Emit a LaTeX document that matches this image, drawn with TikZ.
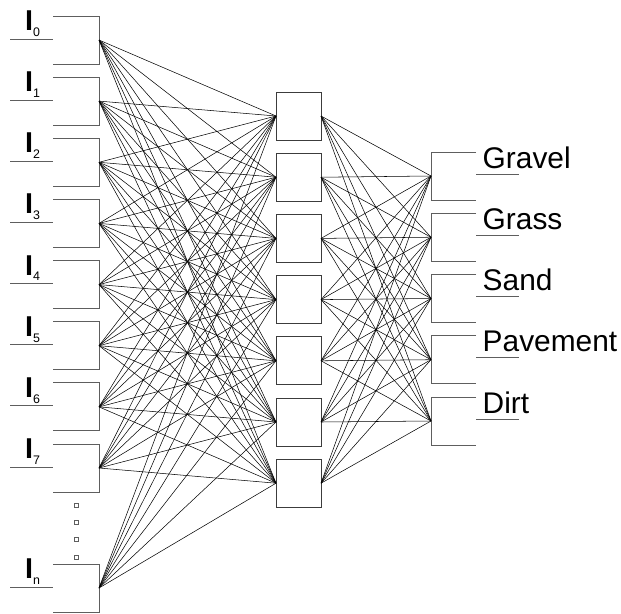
\documentclass[tikz,border=0pt]{standalone}
\usepackage{fontspec}
\setmainfont{Liberation Sans}
\usepackage{xcolor}
\usetikzlibrary{positioning, calc}
\definecolor{unitgray}{HTML}{5E5E5E}
\definecolor{boxgray}{HTML}{3C3C3C}
\tikzset{
    % Bracket of an input or output unit
    unit line/.style={
        draw=unitgray,
        line width=0.8pt
    },
    % Hidden unit style
    hidbox/.style={
        rectangle,
        draw=boxgray,
        line width=0.8pt,
        minimum width=1.35cm,
        minimum height=1.44cm,
        inner sep=0pt,
        outer sep=0pt
    },
    % Weight line style
    link/.style={
        draw=black,
        line width=0.45pt
    },
    % Input label style
    in label/.style={
        anchor=base west,
        inner sep=0pt,
        text=black
    },
    % Output label style
    out label/.style={
        anchor=base west,
        inner sep=0pt,
        text=black,
        font=\fontsize{25.5}{30}\selectfont
    },
    % Ellipsis dot style
    gap dot/.style={
        rectangle,
        draw=unitgray,
        line width=0.4pt,
        minimum size=0.13cm,
        inner sep=0pt
    }
}

\begin{document}
\begin{tikzpicture}[x=0.03cm, y=-0.03cm]
        \useasboundingbox (0,0) rectangle (621,613);

        % Input units
        \foreach \i/\t in {0/16,1/77.1,2/138.3,3/199.4,4/260.6,5/321.7,6/382.9,7/444,n/564} {
            \draw[unit line] (53,\t) -| (99,\t+48) -- (53,\t+48);
            \draw[unit line] (10,\t+23) -- (53,\t+23);
            \coordinate (in\i) at (99,\t+24);
            \node[in label] (inlab\i) at (25,\t+14.5)
                {{\fontsize{24.5}{28}\selectfont\bfseries I}{\fontsize{10.6}{12}\selectfont\raisebox{-5pt}{\i}}};
        }

        % Gap between I7 and In
        \foreach \d/\y in {1/505,2/522,3/539,4/557}
            \node[gap dot] (gap\d) at (76,\y) {};

        % Hidden units
        \foreach \j in {0,...,6}
            \node[hidbox] (hid\j) at (298.5,116+61.2*\j) {};

        % Output units
        \foreach \k/\t/\name in {1/152/Gravel,2/213.2/Grass,3/274.5/Sand,4/335.7/Pavement,5/397/Dirt} {
            \draw[unit line] (476,\t) -| (431,\t+48) -- (476,\t+48);
            \draw[unit line] (476,\t+22) -- (519,\t+22);
            \coordinate (out\k) at (431,\t+24);
            \node[out label] (outlab\k) at (482.5,\t+16) {\name};
        }

        % Connections
        \foreach \i in {0,...,7,n}
            \foreach \j in {0,...,6}
                \draw[link] (in\i) -- (hid\j.west);
        \foreach \j in {0,...,6}
            \foreach \k in {1,...,5}
                \draw[link] (hid\j.east) -- (out\k);

    \end{tikzpicture}
\end{document}
